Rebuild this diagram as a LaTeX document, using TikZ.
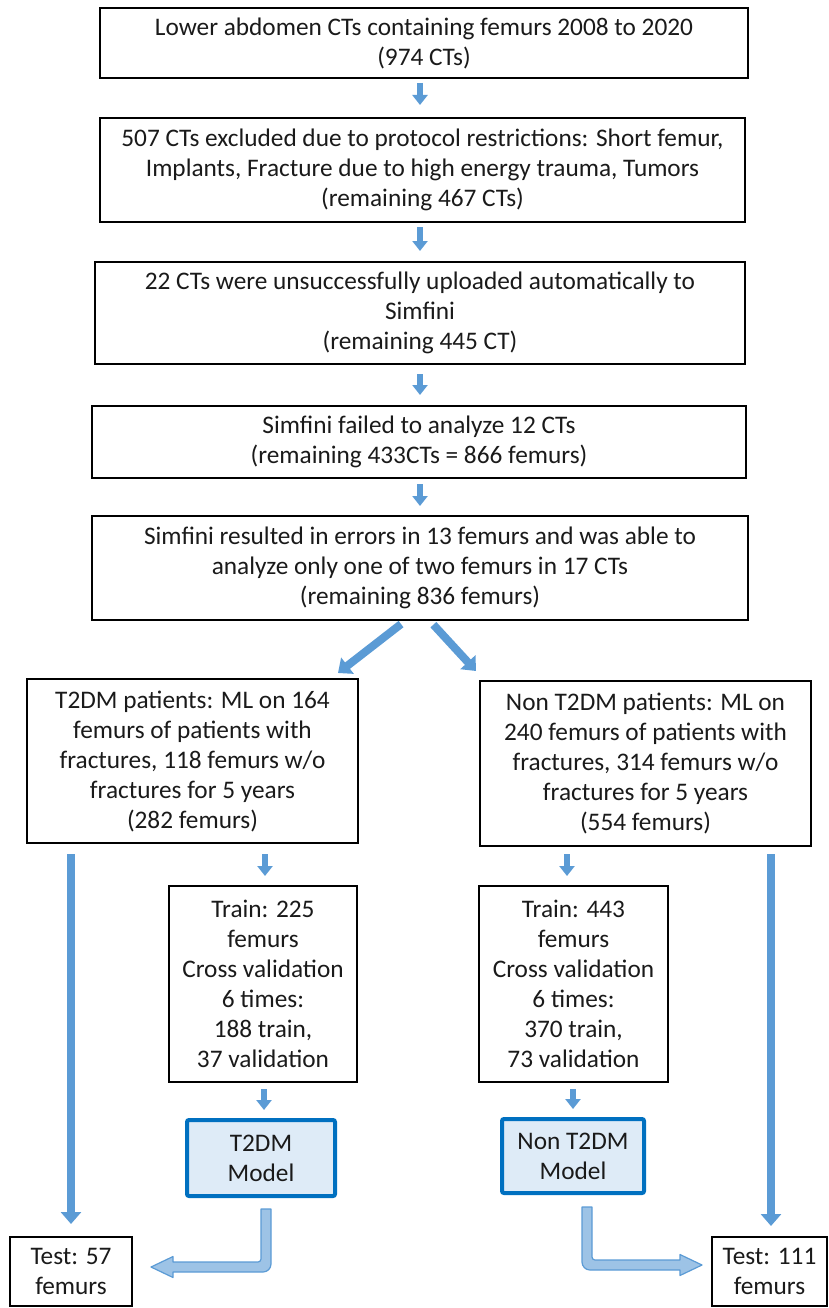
\documentclass[tikz,border=0pt]{standalone}
\usepackage{fontspec}
\setmainfont{Carlito}
\usetikzlibrary{arrows.meta,calc}
\definecolor{arrowblue}{HTML}{5B9BD5}
\definecolor{lightarrow}{HTML}{9DC3E6}
\definecolor{modelblue}{HTML}{0070C0}
\definecolor{modelfill}{HTML}{DEEBF7}
\definecolor{txt}{HTML}{1A1A1A}
\begin{document}
\begin{tikzpicture}[x=1pt,y=-1pt,
 box/.style={draw=black, line width=2pt, align=center, inner sep=0pt, text=txt, font=\fontsize{25.3}{30}\selectfont},
 modelbox/.style={box, draw=modelblue, line width=4pt, fill=modelfill, rounded corners=2pt},
 sarrow/.style={draw=arrowblue, line width=6pt, -{Triangle[width=15pt,length=10pt]}},
 larrow/.style={draw=arrowblue, line width=8pt, -{Triangle[width=20pt,length=12pt]}},
 elbow/.style={fill=lightarrow, draw=arrowblue, line width=1.2pt, line join=round}
]
\useasboundingbox (0,0) rectangle (829,1308);

\node[box, minimum width=648pt, minimum height=70pt] (b1) at (424,43)
 {Lower abdomen CTs containing femurs 2008 to 2020\\(974 CTs)};
\node[box, minimum width=645pt, minimum height=104pt] (b2) at (422.5,170)
 {507 CTs excluded due to protocol restrictions: Short femur,\\Implants, Fracture due to high energy trauma, Tumors\\(remaining 467 CTs)};
\node[box, minimum width=650pt, minimum height=102pt] (b3) at (420,313)
 {22 CTs were unsuccessfully uploaded automatically to\\Simfini\\(remaining 445 CT)};
\node[box, minimum width=654pt, minimum height=72pt] (b4) at (419,442)
 {Simfini failed to analyze 12 CTs\\(remaining 433CTs = 866 femurs)};
\node[box, minimum width=656pt, minimum height=104pt] (b5) at (420,568)
 {Simfini resulted in errors in 13 femurs and was able to\\analyze only one of two femurs in 17 CTs\\(remaining 836 femurs)};

\node[box, minimum width=331pt, minimum height=164pt] (b6) at (192.5,761)
 {T2DM patients: ML on 164\\femurs of patients with\\fractures, 118 femurs w/o\\fractures for 5 years\\(282 femurs)};
\node[box, minimum width=331pt, minimum height=165pt] (b7) at (645.5,763.5)
 {Non T2DM patients: ML on\\240 femurs of patients with\\fractures, 314 femurs w/o\\fractures for 5 years\\(554 femurs)};

\node[box, minimum width=188pt, minimum height=196pt] (tr1) at (263,984)
 {Train: 225\\femurs\\Cross validation\\6 times:\\188 train,\\37 validation};
\node[box, minimum width=189pt, minimum height=196pt] (tr2) at (573.5,984)
 {Train: 443\\femurs\\Cross validation\\6 times:\\370 train,\\73 validation};

\node[modelbox, minimum width=148pt, minimum height=76pt] (m1) at (261,1158) {T2DM\\Model};
\node[modelbox, minimum width=142pt, minimum height=74pt] (m2) at (573,1156) {Non T2DM\\Model};

\node[box, minimum width=122pt, minimum height=69pt] (t1) at (71,1271.5) {Test: 57\\femurs};
\node[box, minimum width=115pt, minimum height=69pt] (t2) at (769.5,1271.5) {Test: 111\\femurs};

% small arrows in the main column
\draw[sarrow, shorten <=4pt, shorten >=12pt] (b1.south -| 420,0) -- (b2.north -| 420,0);
\draw[sarrow, shorten <=4pt, shorten >=10pt] (b2.south -| 420,0) -- (b3.north -| 420,0);
\draw[sarrow, shorten <=9pt, shorten >=10pt] (b3.south -| 420,0) -- (b4.north -| 420,0);
\draw[sarrow, shorten <=5pt, shorten >=9pt] (b4.south -| 420,0) -- (b5.north -| 420,0);

% split
\draw[larrow, shorten <=5pt] (b5.south -| 405,0) -- ($(b6.north east)+(-21,-5)$);
\draw[larrow, shorten <=5pt] (b5.south -| 430,0) -- ($(b7.north west)+(-3,-9)$);

% long arrows to test
\draw[larrow, shorten <=10pt, shorten >=12pt] (b6.south -| t1.north) -- (t1.north);
\draw[larrow, shorten <=7pt, shorten >=10pt] (b7.south -| 771,0) -- (t2.north -| 771,0);

% to train boxes
\draw[sarrow, shorten <=10pt, shorten >=9pt] (b6.south -| 265,0) -- (tr1.north -| 265,0);
\draw[sarrow, shorten <=7pt, shorten >=9pt] (b7.south -| 567,0) -- (tr2.north -| 567,0);

% to models
\draw[sarrow, shorten <=6pt, shorten >=8pt] (tr1.south -| 264,0) -- (m1.north -| 264,0);
\draw[sarrow, shorten <=6pt, shorten >=8pt] (tr2.south -| 573,0) -- (m2.north -| 573,0);

% elbow arrows from models to tests
\coordinate (A) at ($(m1.south)+(5,11)$);
\coordinate (B) at ($(t1.east)+(18,-4.5)$);
\path[elbow] ($(A)+(-5,0)$) -- ($(A)+(5,0)$) [rounded corners=8pt] -- ($(A |- B)+(5,5)$) [sharp corners]
 -- ($(B)+(22,5)$) -- ($(B)+(22,10.5)$) -- (B) -- ($(B)+(22,-10.5)$) -- ($(B)+(22,-5)$)
 [rounded corners=3pt] -- ($(A |- B)+(-5,-5)$) [sharp corners] -- cycle;

\coordinate (A2) at ($(m2.south)+(14,12)$);
\coordinate (B2) at ($(t2.west)+(-9,-6.5)$);
\path[elbow] ($(A2)+(-5,0)$) [rounded corners=8pt] -- ($(A2 |- B2)+(-5,5)$) [sharp corners]
 -- ($(B2)+(-22,5)$) -- ($(B2)+(-22,10.5)$) -- (B2) -- ($(B2)+(-22,-10.5)$) -- ($(B2)+(-22,-5)$)
 [rounded corners=3pt] -- ($(A2 |- B2)+(5,-5)$) [sharp corners] -- ($(A2)+(5,0)$) -- cycle;
\end{tikzpicture}
\end{document}
